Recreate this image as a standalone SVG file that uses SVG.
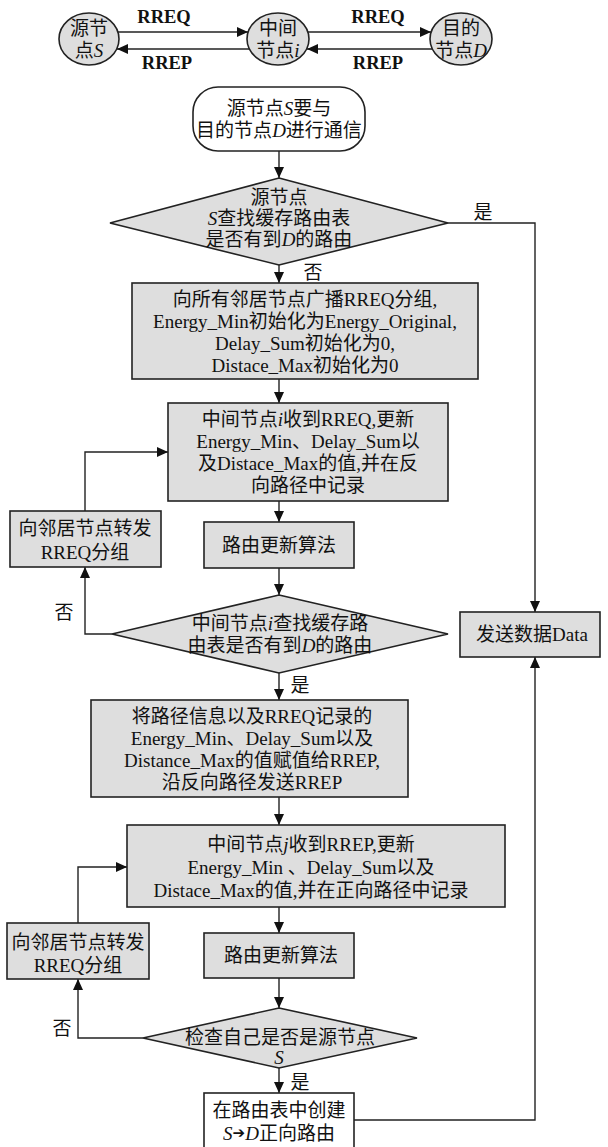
<svg xmlns="http://www.w3.org/2000/svg" width="608" height="1147" viewBox="0 0 608 1147">
<style>
text{font-family:"Liberation Serif","Noto Sans CJK SC",serif;font-size:19px;fill:#111;text-anchor:middle;dominant-baseline:central}
.b{font-weight:bold;font-size:18.5px}
.i{font-style:italic}
.ar{font-family:"DejaVu Sans",sans-serif;font-size:15px}
.box{fill:#dedede;stroke:#222;stroke-width:1.6}
.wbox{fill:#fff;stroke:#222;stroke-width:1.6}
.ln{fill:none;stroke:#222;stroke-width:1.4}
</style>
<defs>
<marker id="ah" markerUnits="userSpaceOnUse" markerWidth="12" markerHeight="10" refX="11" refY="5" orient="auto">
<path d="M0,0 L11,5 L0,10 Z" fill="#111"/>
</marker>
</defs>
<g id="legend">
<g id="nodeS"><ellipse cx="89" cy="39" rx="30" ry="26" class="box" stroke-width="1.3"/><text x="89" y="28">源节</text><text x="89" y="50">点<tspan class="i">S</tspan></text></g>
<g id="nodeI"><ellipse cx="278" cy="39" rx="31" ry="26" class="box" stroke-width="1.3"/><text x="278" y="28">中间</text><text x="278" y="50">节点<tspan class="i">i</tspan></text></g>
<g id="nodeD"><ellipse cx="461" cy="39" rx="31" ry="26" class="box" stroke-width="1.3"/><text x="461" y="28">目的</text><text x="461" y="50">节点<tspan class="i">D</tspan></text></g>
<text class="b" x="164" y="17">RREQ</text>
<text class="b" x="378" y="17">RREQ</text>
<text class="b" x="167" y="63">RREP</text>
<text class="b" x="378" y="63">RREP</text>
</g>
<g id="connectors">
<line class="ln" x1="118" y1="32" x2="248" y2="32" marker-end="url(#ah)"/>
<line class="ln" x1="249" y1="49" x2="117" y2="49" marker-end="url(#ah)"/>
<line class="ln" x1="308" y1="32" x2="431" y2="32" marker-end="url(#ah)"/>
<line class="ln" x1="432" y1="49" x2="307" y2="49" marker-end="url(#ah)"/>
<line class="ln" x1="279" y1="151" x2="279" y2="178" marker-end="url(#ah)"/>
<polyline class="ln" points="448,223 535,223 535,612" marker-end="url(#ah)"/>
<line class="ln" x1="279" y1="265" x2="279" y2="283" marker-end="url(#ah)"/>
<line class="ln" x1="279" y1="379" x2="279" y2="403" marker-end="url(#ah)"/>
<line class="ln" x1="279" y1="501" x2="279" y2="522" marker-end="url(#ah)"/>
<line class="ln" x1="279" y1="568" x2="279" y2="595" marker-end="url(#ah)"/>
<polyline class="ln" points="112,634 85,634 85,567" marker-end="url(#ah)"/>
<polyline class="ln" points="85,511 85,452 168,452" marker-end="url(#ah)"/>
<line class="ln" x1="279" y1="673" x2="279" y2="700" marker-end="url(#ah)"/>
<line class="ln" x1="279" y1="797" x2="279" y2="825" marker-end="url(#ah)"/>
<line class="ln" x1="279" y1="907" x2="279" y2="933" marker-end="url(#ah)"/>
<line class="ln" x1="279" y1="978" x2="279" y2="1008" marker-end="url(#ah)"/>
<polyline class="ln" points="143,1038 78,1038 78,979" marker-end="url(#ah)"/>
<polyline class="ln" points="78,923 78,867 127,867" marker-end="url(#ah)"/>
<line class="ln" x1="279" y1="1068" x2="279" y2="1093" marker-end="url(#ah)"/>
<polyline class="ln" points="354,1120 535,1120 535,657" marker-end="url(#ah)"/>
<text x="483" y="212">是</text>
<text x="313" y="272">否</text>
<text x="64" y="612">否</text>
<text x="300" y="685">是</text>
<text x="62" y="1028">否</text>
<text x="300" y="1082">是</text>
</g>
<g id="start">
<rect x="193" y="87" width="172" height="64" rx="25" class="wbox"/>
<text x="279" y="108">源节点<tspan class="i">S</tspan>要与</text>
<text x="279" y="130">目的节点<tspan class="i">D</tspan>进行通信</text>
</g>
<g id="decision1">
<polygon points="279,178 448,223 279,265 110,223" class="box" stroke-width="1.3"/>
<text x="279" y="197">源节点</text>
<text x="279" y="218"><tspan class="i">S</tspan>查找缓存路由表</text>
<text x="279" y="239">是否有到<tspan class="i">D</tspan>的路由</text>
</g>
<g id="broadcast">
<rect x="132" y="283" width="346" height="96" class="box"/>
<text x="305" y="299">向所有邻居节点广播RREQ分组,</text>
<text x="305" y="321">Energy_Min初始化为Energy_Original,</text>
<text x="305" y="343">Delay_Sum初始化为0,</text>
<text x="305" y="365">Distace_Max初始化为0</text>
</g>
<g id="recvRREQ">
<rect x="168" y="403" width="280" height="98" class="box"/>
<text x="308" y="419">中间节点<tspan class="i">i</tspan>收到RREQ,更新</text>
<text x="308" y="441">Energy_Min、Delay_Sum以</text>
<text x="308" y="463">及Distace_Max的值,并在反</text>
<text x="308" y="485">向路径中记录</text>
</g>
<g id="update1">
<rect x="204" y="522" width="150" height="46" class="box"/>
<text x="279" y="545">路由更新算法</text>
</g>
<g id="forward1">
<rect x="10" y="511" width="151" height="56" class="box"/>
<text x="85" y="528">向邻居节点转发</text>
<text x="85" y="552">RREQ分组</text>
</g>
<g id="decision2">
<polygon points="279,595 448,634 279,673 112,634" class="box" stroke-width="1.3"/>
<text x="280" y="623">中间节点<tspan class="i">i</tspan>查找缓存路</text>
<text x="280" y="645">由表是否有到<tspan class="i">D</tspan>的路由</text>
</g>
<g id="sendData">
<rect x="460" y="612" width="140" height="45" class="box"/>
<text x="532" y="634">发送数据Data</text>
</g>
<g id="reply">
<rect x="91" y="700" width="317" height="97" class="box"/>
<text x="252" y="716">将路径信息以及RREQ记录的</text>
<text x="252" y="738">Energy_Min、Delay_Sum以及</text>
<text x="252" y="760">Distance_Max的值赋值给RREP,</text>
<text x="252" y="782">沿反向路径发送RREP</text>
</g>
<g id="recvRREP">
<rect x="127" y="825" width="378" height="82" class="box"/>
<text x="311" y="844">中间节点<tspan class="i">j</tspan>收到RREP,更新</text>
<text x="311" y="867">Energy_Min 、Delay_Sum以及</text>
<text x="311" y="890">Distace_Max的值,并在正向路径中记录</text>
</g>
<g id="update2">
<rect x="204" y="933" width="150" height="45" class="box"/>
<text x="281" y="955">路由更新算法</text>
</g>
<g id="forward2">
<rect x="7" y="923" width="142" height="56" class="box"/>
<text x="78" y="942">向邻居节点转发</text>
<text x="78" y="965">RREQ分组</text>
</g>
<g id="decision3">
<polygon points="279,1008 417,1038 279,1068 143,1038" class="box" stroke-width="1.3"/>
<text x="280" y="1037">检查自己是否是源节点</text>
<text x="279" y="1057" class="i">S</text>
</g>
<g id="createRoute">
<rect x="204" y="1093" width="150" height="70" class="wbox"/>
<text x="279" y="1110">在路由表中创建</text>
<text x="279" y="1133"><tspan class="i">S</tspan><tspan class="ar">➔</tspan><tspan class="i">D</tspan>正向路由</text>
</g>
</svg>
